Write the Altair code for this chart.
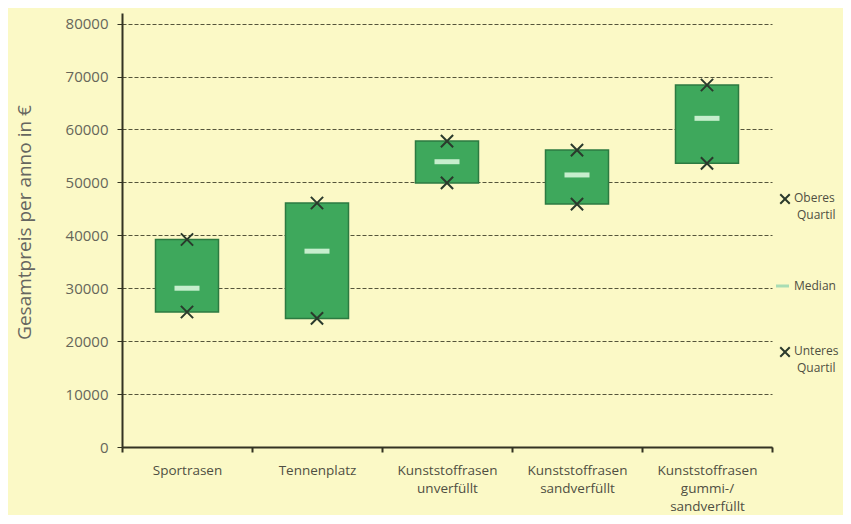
import altair as alt
import pandas as pd

# ---- data ----
categories = [
    "Sportrasen",
    "Tennenplatz",
    "Kunststoffrasen|unverfüllt",
    "Kunststoffrasen|sandverfüllt",
    "Kunststoffrasen|gummi-/|sandverfüllt",
]
q1_values = [25500, 24300, 49900, 45900, 53600]      # Unteres Quartil
median_values = [30000, 37000, 53900, 51400, 62100]  # Median
q3_values = [39200, 46100, 57800, 56100, 68400]      # Oberes Quartil
y_ticks = [0, 10000, 20000, 30000, 40000, 50000, 60000, 70000, 80000]
legend_upper = ["Oberes", "Quartil"]
legend_median = "Median"
legend_lower = ["Unteres", "Quartil"]
y_title = "Gesamtpreis per anno in €"

df = pd.DataFrame({
    "cat": categories,
    "q1": q1_values,
    "median": median_values,
    "q3": q3_values,
})

FONT = "Open Sans"
BG = "#fbf9c6"
BOX = "#3ea85c"
BOX_STROKE = "#2c7a41"
MEDIAN = "#c6eecd"
CROSS = "#2a3a2c"
TXT = "#4f4f42"
X_PATH = "M-1,-1L1,1M-1,1L1,-1"

x_enc = alt.X(
    "cat:N",
    sort=categories,
    scale=alt.Scale(paddingInner=0, paddingOuter=0),
    axis=alt.Axis(
        title=None,
        labelAngle=0,
        labelExpr="split(datum.label, '|')",
        labelLineHeight=18,
        labelFontSize=13.5,
        labelFont=FONT,
        labelColor=TXT,
        labelPadding=11,
        labelBaseline="top",
        tickBand="extent",
        ticks=True,
        tickSize=5,
        tickColor="#333322",
        tickWidth=2,
        domainColor="#333322",
        domainWidth=2,
        grid=False,
    ),
)

y_scale = alt.Scale(domain=[0, 82000], nice=False, zero=True)

y_axis = alt.Axis(
    title=y_title,
    titleFont=FONT,
    titleFontSize=19,
    titleFontWeight="normal",
    titleColor="#666660",
    titleX=-88,
    titleY=209,
    values=y_ticks,
    format="d",
    labelFont=FONT,
    labelFontSize=15,
    labelColor="#66665a",
    labelPadding=9,
    tickSize=5,
    tickColor="#333322",
    domainColor="#333322",
    domainWidth=2,
    grid=True,
    gridColor="#55553a",
    gridDash=[4, 2],
    gridWidth=1.1,
)

base = alt.Chart(df)

boxes = base.mark_bar(
    size=63, color=BOX, stroke=BOX_STROKE, strokeWidth=1.5
).encode(
    x=x_enc,
    y=alt.Y("q1:Q", scale=y_scale, axis=y_axis),
    y2="q3:Q",
)

medians = base.mark_tick(size=25, thickness=5, color=MEDIAN, opacity=1).encode(
    x=alt.X("cat:N", sort=categories),
    y=alt.Y("median:Q"),
)

cross_upper = base.mark_point(
    shape=X_PATH, size=150, stroke=CROSS, strokeWidth=2, filled=False, opacity=1
).encode(x=alt.X("cat:N", sort=categories), y=alt.Y("q3:Q"))

cross_lower = base.mark_point(
    shape=X_PATH, size=150, stroke=CROSS, strokeWidth=2, filled=False, opacity=1
).encode(x=alt.X("cat:N", sort=categories), y=alt.Y("q1:Q"))

one = pd.DataFrame({"k": [0]})


def leg_text(label, xv, yv):
    return alt.Chart(one).mark_text(
        align="left", baseline="middle", font=FONT, fontSize=12, color=TXT
    ).encode(x=alt.value(xv), y=alt.value(yv), text=alt.value(label))


def leg_cross(xv, yv):
    return alt.Chart(one).mark_point(
        shape=X_PATH, size=90, stroke=CROSS, strokeWidth=2, filled=False, opacity=1
    ).encode(x=alt.value(xv), y=alt.value(yv))


leg_median = alt.Chart(one).mark_rule(color="#a8ddb4", strokeWidth=3).encode(
    x=alt.value(654), x2=alt.value(667), y=alt.value(273)
)

chart = alt.layer(
    boxes, medians, cross_upper, cross_lower,
    leg_cross(663, 186),
    leg_text(legend_upper[0], 672, 185),
    leg_text(legend_upper[1], 675, 202),
    leg_median,
    leg_text(legend_median, 672, 273),
    leg_cross(663, 339),
    leg_text(legend_lower[0], 672, 338),
    leg_text(legend_lower[1], 675, 355),
).properties(
    width=650,
    height=434,
    autosize=alt.AutoSizeParams(type="none"),
    padding={"left": 114, "top": 5, "right": 71, "bottom": 68},
    background=BG,
).configure_view(stroke=None, fill=BG)

chart.save("out.html", embed_options={"renderer": "svg", "actions": False})
